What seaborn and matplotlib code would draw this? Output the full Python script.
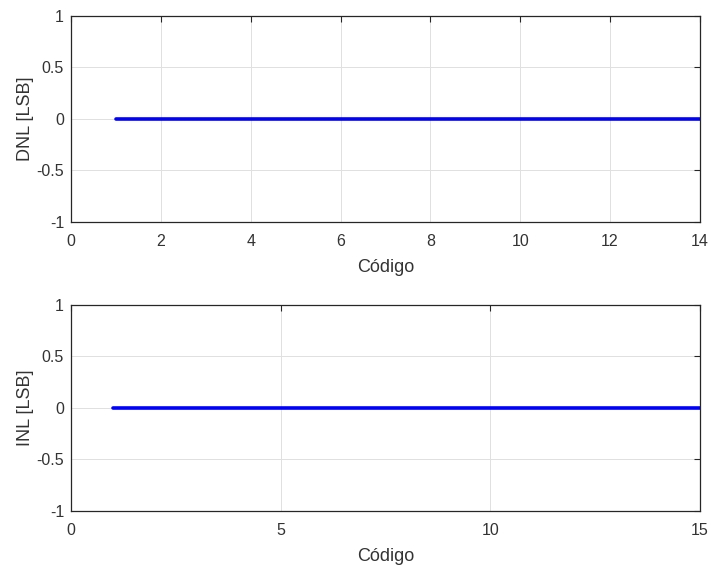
import numpy as np
import pandas as pd
import seaborn as sns
import matplotlib
matplotlib.use('Agg')
import matplotlib.pyplot as plt

# Data: DNL and INL are zero for every code
dnl_codes = [1, 2, 3, 4, 5, 6, 7, 8, 9, 10, 11, 12, 13, 14]
dnl_values = [0, 0, 0, 0, 0, 0, 0, 0, 0, 0, 0, 0, 0, 0]
inl_codes = [1, 2, 3, 4, 5, 6, 7, 8, 9, 10, 11, 12, 13, 14, 15]
inl_values = [0, 0, 0, 0, 0, 0, 0, 0, 0, 0, 0, 0, 0, 0, 0]

dnl_ticks = [0, 2, 4, 6, 8, 10, 12, 14]
inl_ticks = [0, 5, 10, 15]
y_ticks = [-1, -0.5, 0, 0.5, 1]
y_labels = ['-1', '-0.5', '0', '0.5', '1']

sns.set_style("white")
plt.rcParams['font.family'] = ['Liberation Sans', 'DejaVu Sans']

fig = plt.figure(figsize=(7.13, 5.66), dpi=100)
ax1 = fig.add_axes([0.0996, 0.6078, 0.882, 0.364])
ax2 = fig.add_axes([0.0996, 0.0972, 0.882, 0.364])

dnl = pd.DataFrame({'code': dnl_codes, 'value': dnl_values})
inl = pd.DataFrame({'code': inl_codes, 'value': inl_values})

panels = [
    (ax1, dnl, dnl_ticks, 'DNL [LSB]'),
    (ax2, inl, inl_ticks, 'INL [LSB]'),
]

txt = '#333333'
for ax, df, xt, ylab in panels:
    sns.lineplot(data=df, x='code', y='value', ax=ax, color='#0000ff', linewidth=2.6)
    ax.set_xlim(xt[0], xt[-1])
    ax.set_ylim(-1, 1)
    ax.set_xticks(xt)
    ax.set_xticklabels([str(t) for t in xt])
    ax.set_yticks(y_ticks)
    ax.set_yticklabels(y_labels)
    ax.grid(True, color='#e0e0e0', linewidth=0.7)
    ax.set_axisbelow(True)
    for s in ax.spines.values():
        s.set_visible(True)
        s.set_color('#262626')
        s.set_linewidth(0.9)
    ax.tick_params(direction='in', length=4, width=0.8, colors='#262626',
                   top=True, right=True, labelsize=11.5, labelcolor=txt)
    ax.tick_params(axis='x', pad=9)
    ax.tick_params(axis='y', pad=5)
    ax.set_xlabel('Código', fontsize=13, color=txt, labelpad=7)
    ax.set_ylabel(ylab, fontsize=13, color=txt, labelpad=2)

fig.savefig('out.png', dpi=100)
